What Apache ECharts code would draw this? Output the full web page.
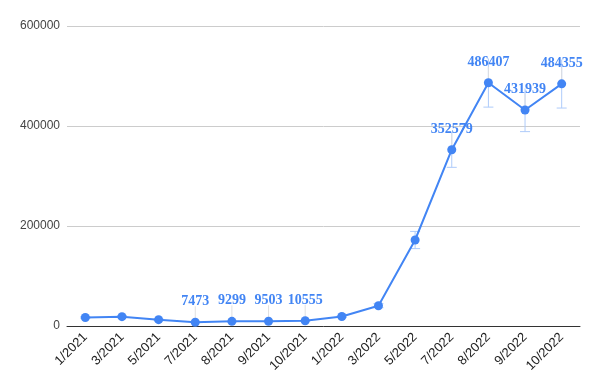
<!DOCTYPE html>
<html><head><meta charset="utf-8">
<script src="https://cdn.jsdelivr.net/npm/echarts@6/dist/echarts.min.js"></script>
<style>html,body{margin:0;padding:0;background:#fff}#c{width:600px;height:389px}</style>
</head><body><div id="c"></div>
<script>
const categories = ['1/2021','3/2021','5/2021','7/2021','8/2021','9/2021','10/2021','1/2022','3/2022','5/2022','7/2022','8/2022','9/2022','10/2022'];
const values = [17000, 18700, 12700, 7473, 9299, 9503, 10555, 19000, 40600, 172000, 352579, 486407, 431939, 484355];
const labeled = [false, false, false, true, true, true, true, false, false, false, true, true, true, true];
const errorFraction = 0.1;
const yTicks = [0, 200000, 400000, 600000];

const blue = '#4285F4';
const errData = values.map((v, i) => [i, v * (1 - errorFraction), v * (1 + errorFraction), v, labeled[i] ? 1 : 0]);

const chart = echarts.init(document.getElementById('c'));
chart.setOption({
  animation: false,
  grid: { left: 67, right: 20, top: 26, bottom: 63 },
  xAxis: {
    type: 'category', data: categories, boundaryGap: true,
    axisTick: { show: false },
    axisLine: { lineStyle: { color: '#333', width: 1 } },
    axisLabel: { rotate: 45, color: '#222', fontSize: 13, fontFamily: 'Arial, Liberation Sans, sans-serif', interval: 0, margin: 9 }
  },
  yAxis: {
    type: 'value', min: yTicks[0], max: yTicks[yTicks.length - 1], interval: 200000,
    axisLine: { show: false }, axisTick: { show: false },
    splitLine: { lineStyle: { color: '#ccc', width: 1 } },
    axisLabel: { color: '#444', fontSize: 12, fontFamily: 'Arial, Liberation Sans, sans-serif', margin: 7, formatter: v => String(v) }
  },
  series: [
    {
      type: 'custom', z: 1, silent: true,
      data: errData,
      renderItem: function (params, api) {
        const x = api.value(0);
        const lo = api.coord([x, api.value(1)]);
        const hi = api.coord([x, api.value(2)]);
        const pt = api.coord([x, api.value(3)]);
        const cap = 5;
        const st = { stroke: '#aecbfa', lineWidth: 1 };
        const children = [
          { type: 'line', shape: { x1: lo[0], y1: lo[1], x2: hi[0], y2: hi[1] }, style: st },
          { type: 'line', shape: { x1: lo[0] - cap, y1: lo[1], x2: lo[0] + cap, y2: lo[1] }, style: st }
        ];
        if (api.value(4)) {
          children.push({ type: 'line', shape: { x1: pt[0], y1: pt[1], x2: pt[0], y2: pt[1] - 16 }, style: { stroke: '#e0e0e0', lineWidth: 1 } });
        } else {
          children.push({ type: 'line', shape: { x1: hi[0] - cap, y1: hi[1], x2: hi[0] + cap, y2: hi[1] }, style: st });
        }
        return { type: 'group', children: children };
      }
    },
    {
      type: 'line', z: 3,
      data: values.map((v, i) => ({
        value: v,
        label: { show: labeled[i] }
      })),
      symbol: 'circle', symbolSize: 9,
      itemStyle: { color: blue },
      lineStyle: { color: blue, width: 2 },
      label: {
        position: 'top', distance: 9,
        color: blue, fontSize: 14, fontWeight: 'bold',
        fontFamily: 'Liberation Serif, Times New Roman, serif'
      }
    }
  ]
});
</script></body></html>
